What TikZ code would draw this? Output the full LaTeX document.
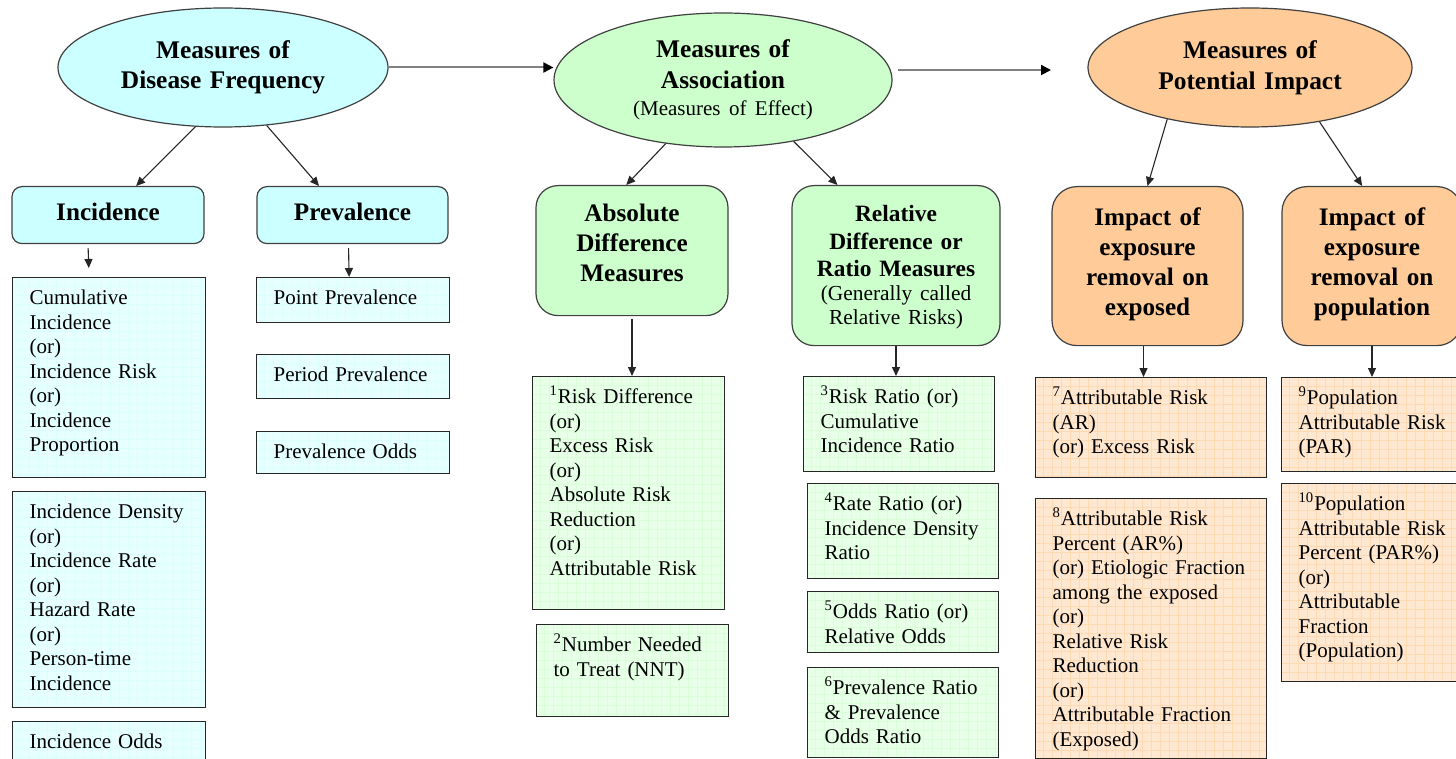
\documentclass[tikz,border=0pt]{standalone}
\usepackage{fontspec}
\setmainfont{Liberation Serif}
\usetikzlibrary{shapes.geometric, arrows.meta}

\definecolor{freqc}{HTML}{CCFFFF}
\definecolor{assocc}{HTML}{CCFFCC}
\definecolor{impc}{HTML}{FFCC99}

\tikzset{
  bubble/.style={ellipse, draw=black!75, line width=0.6pt, fill=#1, inner sep=0pt,
    text width=104pt, align=center, minimum width=165pt, minimum height=59.5pt,
    font=\fontsize{12.7}{15.3}\selectfont\bfseries},
  headbox/.style={draw=black!75, line width=0.6pt, fill=#1, anchor=north, inner sep=0pt,
    align=center, font=\fontsize{12.6}{15}\selectfont\bfseries},
  listbox/.style={draw=black!85, line width=0.6pt, fill=#1!45!white, anchor=north west,
    inner xsep=8.5pt, inner ysep=0pt, text height=13.5pt, align=left,
    font=\fontsize{10.5}{12.25}\selectfont,
    path picture={\draw[#1!75!white, line width=0.3pt] (path picture bounding box.south west)
      grid[step=4.5pt] (path picture bounding box.north east);}},
  flow/.style={-{Triangle[length=5pt,width=5pt,black]}, line width=1pt, black!50},
  link/.style={-{Triangle[length=4.5pt,width=4pt]}, line width=0.55pt, black!85}
}

\begin{document}
\begin{tikzpicture}[x=0.5pt, y=-0.5pt]
\useasboundingbox (0,0) rectangle (1456,759);
\clip (0,0) rectangle (1456,759);
\fill[white] (0,0) rectangle (1456,759);

% main groups
\node[bubble=freqc] (freq) at (223,67.5) {Measures of\\ Disease Frequency};
\node[bubble=assocc, minimum width=169pt, minimum height=67pt] (assoc) at (723,80)
  {Measures of\\ Association\par
   {\fontsize{10.5}{13.5}\selectfont\mdseries (Measures of Effect)\par}};
\node[bubble=impc, minimum width=162pt] (impact) at (1250,67.5) {Measures of\\ Potential Impact};

\coordinate (fromassoc) at (898,70);
\coordinate (toimpact) at (1051,70);
\draw[flow] (freq.east) -- (freq.east -| assoc.west);
\draw[flow] (fromassoc) -- (toimpact);

% second level
\node[headbox=freqc, rounded corners=5pt, text width=96pt, text height=17pt, text depth=11.5pt]
  (incid) at (108,186) {Incidence};
\node[headbox=freqc, rounded corners=5pt, text width=95.5pt, text height=17pt, text depth=11.5pt]
  (preval) at (352.5,186) {Prevalence};
\node[headbox=assocc, rounded corners=11pt, text width=96pt, text height=18pt, text depth=47pt]
  (absdiff) at (632,185) {Absolute\\ Difference\\ Measures};
\node[headbox=assocc, rounded corners=11pt, text width=104pt, text height=18pt, text depth=62pt,
  font=\fontsize{11.7}{13.75}\selectfont\bfseries]
  (reldiff) at (896,185) {Relative\\ Difference or\\ Ratio Measures\par
   {\fontsize{10.7}{12}\selectfont\mdseries (Generally called\\ Relative Risks)\par}};
\node[headbox=impc, rounded corners=12.5pt, text width=95.5pt, text height=19.5pt, text depth=60pt]
  (impexp) at (1147.5,186) {Impact of\\ exposure\\ removal on\\ exposed};
\node[headbox=impc, rounded corners=12.5pt, text width=90pt, text height=19.5pt, text depth=60pt]
  (imppop) at (1372,186) {Impact of\\ exposure\\ removal on\\ population};

\draw[link] (freq.245) -- (incid.46);
\draw[link] (freq.-53) -- (preval.139);
\draw[link] (assoc.228) -- (absdiff.95);
\draw[link] (assoc.-41.5) -- (reldiff.126);
\draw[link] (impact.212) -- (impexp.north);
\draw[link] (impact.-38) -- (imppop.97);

% measures
\node[listbox=freqc, text width=79.5pt, text depth=86.5pt] (cuminc) at (12,277)
  {Cumulative\\ Incidence\\ (or)\\ Incidence Risk\\ (or)\\ Incidence\\ Proportion};
\node[listbox=freqc, text width=79.5pt, text depth=94.5pt] (incdens) at (12,491)
  {Incidence Density\\ (or)\\ Incidence Rate\\ (or)\\ Hazard Rate\\ (or)\\ Person-time\\ Incidence};
\node[listbox=freqc, text width=79.5pt, text depth=11pt] (incodds) at (12,721) {Incidence Odds};

\node[listbox=freqc, text width=79.5pt, text depth=9pt] (pointp) at (256,277) {Point Prevalence};
\node[listbox=freqc, text width=79.5pt, text depth=8.5pt] (periodp) at (256,354) {Period Prevalence};
\node[listbox=freqc, text width=79.5pt, text depth=7.5pt] (prevodds) at (256,431) {Prevalence Odds};

\node[listbox=assocc, text width=79pt, text depth=103pt] (riskdiff) at (532,376)
  {\textsuperscript{1}Risk Difference\\ (or)\\ Excess Risk\\ (or)\\ Absolute Risk\\ Reduction\\ (or)\\ Attributable Risk};
\node[listbox=assocc, text width=79pt, text depth=32.5pt] (nnt) at (536,624)
  {\textsuperscript{2}Number Needed\\ to Treat (NNT)};

\node[listbox=assocc, text width=78.5pt, text depth=34pt] (riskratio) at (803,376)
  {\textsuperscript{3}Risk Ratio (or)\\ Cumulative\\ Incidence Ratio};
\node[listbox=assocc, text width=78.5pt, text depth=34pt] (rateratio) at (807,483)
  {\textsuperscript{4}Rate Ratio (or)\\ Incidence Density\\ Ratio};
\node[listbox=assocc, text width=78.5pt, text depth=17pt] (oddsratio) at (807,591)
  {\textsuperscript{5}Odds Ratio (or)\\ Relative Odds};
\node[listbox=assocc, text width=78.5pt, text depth=31.5pt] (prevratio) at (807,667)
  {\textsuperscript{6}Prevalence Ratio\\ \& Prevalence\\ Odds Ratio};

\node[listbox=impc, text width=98.5pt, text depth=36.5pt] (attrisk) at (1035,377)
  {\textsuperscript{7}Attributable Risk\\ (AR)\\ (or) Excess Risk};
\node[listbox=impc, text width=98.5pt, text depth=116.5pt] (attpct) at (1035,498)
  {\textsuperscript{8}Attributable Risk\\ Percent (AR\%)\\ (or) Etiologic Fraction\\ among the exposed\\ (or)\\ Relative Risk\\ Reduction\\ (or)\\ Attributable Fraction\\ (Exposed)};

\node[listbox=impc, text width=98.5pt, text depth=33.5pt] (poprisk) at (1281,377)
  {\textsuperscript{9}Population\\ Attributable Risk\\ (PAR)};
\node[listbox=impc, text width=98.5pt, text depth=85.5pt] (poppct) at (1281,483)
  {\textsuperscript{10}Population\\ Attributable Risk\\ Percent (PAR\%)\\ (or)\\ Attributable\\ Fraction\\ (Population)};

\draw[link, shorten <=2pt, shorten >=4.5pt] ([xshift=-10pt]incid.south) -- ([xshift=-10pt]cuminc.north);
\draw[link, shorten <=2pt] ([xshift=-2pt]preval.south) -- ([xshift=-2pt]pointp.north);
\draw[link, shorten <=1.5pt] (absdiff.south) -- (absdiff.south |- riskdiff.north);
\draw[link] (reldiff.south) -- (reldiff.south |- riskratio.north);
\draw[link] ([xshift=-2pt]impexp.south) -- ([xshift=-2pt]impexp.south |- attrisk.north);
\draw[link] (imppop.south) -- (imppop.south |- poprisk.north);
\end{tikzpicture}
\end{document}
